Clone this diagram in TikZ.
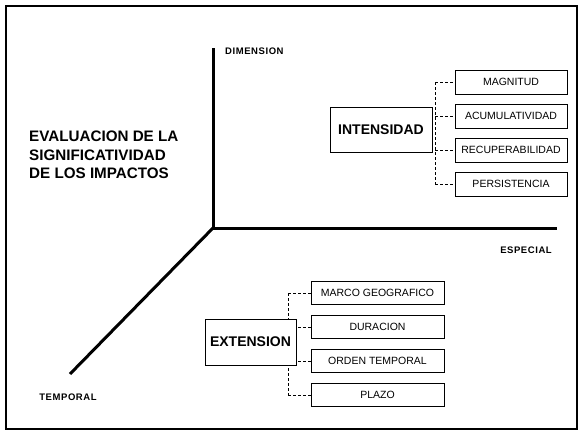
\documentclass[tikz,border=0pt]{standalone}
\usepackage{fontspec}
\setmainfont{Liberation Sans}
\usetikzlibrary{positioning, backgrounds}

\begin{document}
\begin{tikzpicture}[
    x=1pt, y=-1pt,
    mainbox/.style={rectangle, draw=black, line width=1pt, fill=white, inner sep=0pt, font=\fontsize{14}{16}\selectfont\bfseries},
    subbox/.style={rectangle, draw=black, line width=1pt, fill=white, inner sep=0pt, font=\fontsize{10.5}{12}\selectfont},
    axislabel/.style={inner sep=0pt, font=\fontsize{9.5}{10}\selectfont\bfseries\addfontfeature{LetterSpace=6}},
    axis/.style={line width=3pt},
    link/.style={densely dashed, line width=0.9pt}
]
\useasboundingbox (0,0) rectangle (578,431);
\draw[line width=1.5pt] (6,6) rectangle (577,429);

% axes
\coordinate (origin) at (213,228);
\coordinate (dimtop) at (213,48);
\coordinate (esptip) at (557,228);
\coordinate (temptip) at (70,374);
\draw[axis] (dimtop) -- (origin) -- (esptip);
\draw[axis] (origin) -- (temptip);

\node[axislabel, anchor=west] (dimlbl) at (225,51) {DIMENSION};
\node[axislabel] (esplbl) at (526,250) {ESPECIAL};
\node[axislabel] (templbl) at (68,397) {TEMPORAL};

\node[anchor=west, align=left, inner sep=0pt, font=\fontsize{15.2}{18.5}\selectfont\bfseries] (title) at (29,155) {EVALUACION DE LA\\SIGNIFICATIVIDAD\\DE LOS IMPACTOS};

% intensidad
\node[mainbox, minimum width=102pt, minimum height=45pt] (inten) at (381,129.5) {INTENSIDAD};
\node[subbox, minimum width=112pt, minimum height=24pt] (magn) at (511,82) {MAGNITUD};
\node[subbox, minimum width=112pt, minimum height=24pt, below=9pt of magn] (acum) {ACUMULATIVIDAD};
\node[subbox, minimum width=112pt, minimum height=24pt, below=9pt of acum] (recu) {RECUPERABILIDAD};
\node[subbox, minimum width=112pt, minimum height=24pt, below=9pt of recu] (pers) {PERSISTENCIA};

% extension
\node[mainbox, minimum width=91pt, minimum height=46pt] (exten) at (250.5,342) {EXTENSION};
\node[subbox, minimum width=133pt, minimum height=23pt] (marco) at (377.5,293) {MARCO GEOGRAFICO};
\node[subbox, minimum width=133pt, minimum height=23pt, below=10pt of marco] (durac) {DURACION};
\node[subbox, minimum width=133pt, minimum height=23pt, below=10pt of durac] (orden) {ORDEN TEMPORAL};
\node[subbox, minimum width=133pt, minimum height=23pt, below=10pt of orden] (plazo) {PLAZO};

\coordinate (ispine) at (435,0);
\coordinate (espine) at (288,0);
\begin{scope}[on background layer]
\draw[link] (ispine |- magn.west) -- (ispine |- pers.west);
\foreach \b in {magn, acum, recu, pers}
    \draw[link] (ispine |- \b.west) -- (\b.west);
\draw[link] (espine |- marco.west) -- (espine |- plazo.west);
\foreach \b in {marco, durac, orden, plazo}
    \draw[link] (espine |- \b.west) -- (\b.west);
\end{scope}

\end{tikzpicture}
\end{document}
